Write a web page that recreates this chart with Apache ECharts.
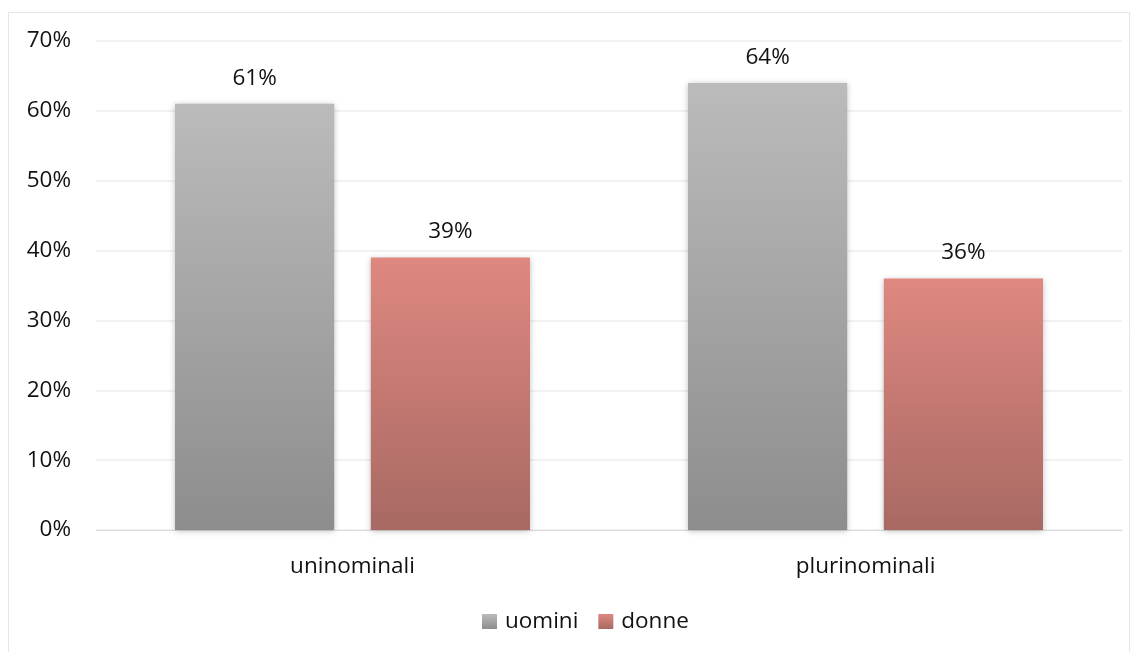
<!DOCTYPE html>
<html><head><meta charset="utf-8">
<script src="https://cdn.jsdelivr.net/npm/echarts@6/dist/echarts.min.js"></script>
<style>html,body{margin:0;padding:0;background:#fff}#c{width:1138px;height:652px}</style>
</head><body><div id="c"></div>
<script>
const categories = ['uninominali', 'plurinominali'];
const seriesNames = ['uomini', 'donne'];
const uomini = [61, 64];
const donne = [39, 36];
const yTicks = [0, 10, 20, 30, 40, 50, 60, 70];

const font = '"Open Sans", "Noto Sans", sans-serif';
const txt = '#111111';
const fs = 22.5;
const grayGrad = new echarts.graphic.LinearGradient(0, 0, 0, 1, [{offset: 0, color: '#bbbbbb'}, {offset: 1, color: '#8d8d8d'}]);
const redGrad = new echarts.graphic.LinearGradient(0, 0, 0, 1, [{offset: 0, color: '#de8880'}, {offset: 1, color: '#a86963'}]);

const chart = echarts.init(document.getElementById('c'));
chart.setOption({
  animation: false,
  graphic: [{type: 'rect', shape: {x: 8.5, y: 12.5, width: 1121, height: 660}, style: {fill: 'none', stroke: '#e6e6e6', lineWidth: 1}}],
  grid: {left: 96, right: 16, top: 41, bottom: 122},
  legend: {
    data: seriesNames, bottom: 14, left: 477, itemWidth: 15, itemHeight: 15, itemGap: 20,
    icon: 'rect', textStyle: {fontFamily: font, fontSize: fs, color: txt, padding: [0, 0, 0, 3]}
  },
  xAxis: {
    type: 'category', data: categories,
    axisLine: {lineStyle: {color: '#dcdcdc', width: 1}}, axisTick: {show: false},
    axisLabel: {fontFamily: font, fontSize: fs, color: txt, margin: 25}
  },
  yAxis: {
    type: 'value', min: yTicks[0], max: yTicks[yTicks.length - 1], interval: 10,
    axisLine: {show: false}, axisTick: {show: false},
    splitLine: {lineStyle: {color: '#ececec', width: 1.5}},
    axisLabel: {fontFamily: font, fontSize: fs, color: txt, margin: 25, formatter: v => v + '%'}
  },
  series: [
    {name: seriesNames[0], type: 'bar', data: uomini, barGap: '23%', barCategoryGap: '30.8%',
     itemStyle: {color: grayGrad, shadowColor: 'rgba(0,0,0,0.25)', shadowBlur: 6, shadowOffsetY: 1},
     label: {show: true, position: 'top', distance: 14, fontFamily: font, fontSize: fs, color: txt, formatter: p => p.value + '%'}},
    {name: seriesNames[1], type: 'bar', data: donne,
     itemStyle: {color: redGrad, shadowColor: 'rgba(0,0,0,0.25)', shadowBlur: 6, shadowOffsetY: 1},
     label: {show: true, position: 'top', distance: 14, fontFamily: font, fontSize: fs, color: txt, formatter: p => p.value + '%'}}
  ]
});
</script></body></html>
